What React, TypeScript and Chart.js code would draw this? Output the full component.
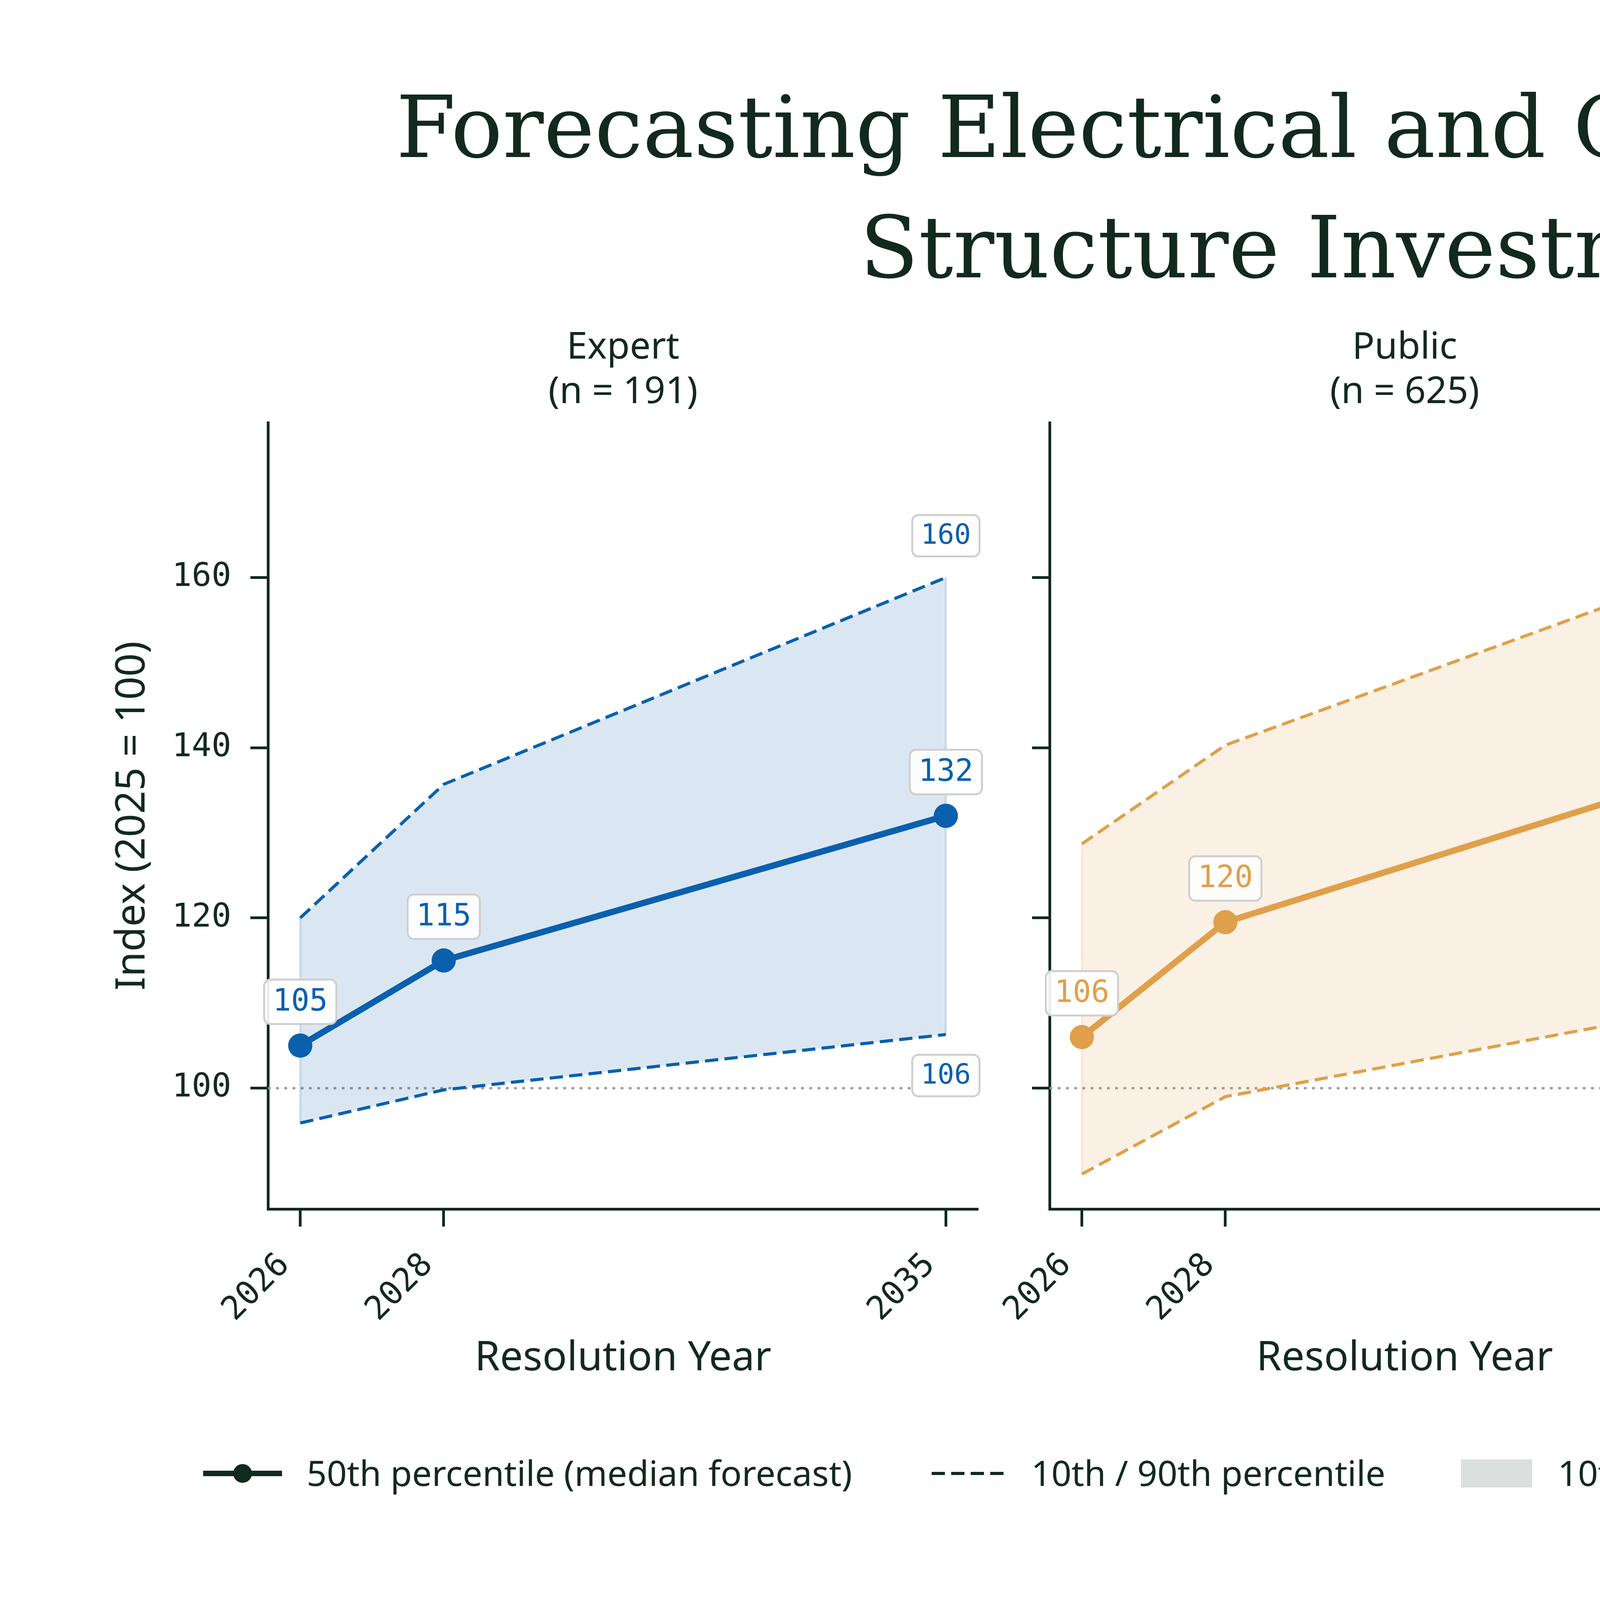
import { useEffect, useRef } from 'react'
import { Chart, registerables } from 'chart.js'
import type { Plugin } from 'chart.js'

Chart.register(...registerables)

// values
const YEARS = [2026, 2028, 2035]
const X_TICKS = [2026, 2028, 2035]
const Y_TICKS = [100, 120, 140, 160]
const BASELINE = 100

const GROUPS = ['Expert', 'Public', 'Superforecaster']
const GROUP_N = [191, 625, 52]

const EXPERT_P10 = [95.9, 99.8, 106.3]
const EXPERT_P50 = [105, 115, 132]
const EXPERT_P90 = [120, 135.7, 160]

const PUBLIC_P10 = [89.9, 99, 110]
const PUBLIC_P50 = [106, 119.5, 138]
const PUBLIC_P90 = [128.7, 140.3, 161.8]

const SUPER_P10 = [95.9, 97.9, 107.7]
const SUPER_P50 = [105, 112, 138]
const SUPER_P90 = [116.2, 133, 173.8]

const LEGEND_LABELS = [
  '50th percentile (median forecast)',
  '10th / 90th percentile',
  '10th\u201390th range',
  '100 = 2025 investment level',
]

// axis limits (matplotlib style 5% margins)
const X_MIN = 2025.55
const X_MAX = 2035.45
const Y_MIN = 85.8
const Y_MAX = 178.2

const DARK = '#12291f'
const SANS = '"Noto Sans", sans-serif'
const MONO = '"DejaVu Sans Mono", monospace'
const SERIF = '"DejaVu Serif", serif'

const AREA_LEFT = [686, 2687, 4689]
const AREA_WIDTH = 1818
const CANVAS_TOP = 800
const CANVAS_H = 2800

function valueLabels(color: string, edge: string): Plugin<'line'> {
  return {
    id: 'valueLabels',
    beforeDatasetsDraw(chart) {
      // faint vertical edges of the band, like fill_between
      const ctx = chart.ctx
      const hi = chart.getDatasetMeta(1).data
      const lo = chart.getDatasetMeta(2).data
      ctx.save()
      ctx.strokeStyle = edge
      ctx.lineWidth = 5
      for (const i of [0, hi.length - 1]) {
        ctx.beginPath()
        ctx.moveTo(hi[i].x, hi[i].y)
        ctx.lineTo(lo[i].x, lo[i].y)
        ctx.stroke()
      }
      ctx.restore()
    },
    afterDatasetsDraw(chart) {
      const ctx = chart.ctx
      const box = (x: number, y: number, text: string, size: number) => {
        ctx.save()
        ctx.font = `${size}px ${MONO}`
        const w = ctx.measureText(text).width + 44
        const h = size * 1.1 + 28
        ctx.beginPath()
        ctx.roundRect(x - w / 2, y - h / 2, w, h, 16)
        ctx.fillStyle = 'rgba(255,255,255,0.92)'
        ctx.fill()
        ctx.strokeStyle = '#cfcfcf'
        ctx.lineWidth = 5
        ctx.stroke()
        ctx.fillStyle = color
        ctx.textAlign = 'center'
        ctx.textBaseline = 'middle'
        ctx.fillText(text, x, y + 2)
        ctx.restore()
      }
      const val = (ds: number, i: number) =>
        String(Math.round((chart.data.datasets[ds].data[i] as { y: number }).y))

      const med = chart.getDatasetMeta(0).data
      med.forEach((pt, i) => box(pt.x, pt.y - 112, val(0, i), 78))
      const hi = chart.getDatasetMeta(1).data
      const lo = chart.getDatasetMeta(2).data
      const last = hi.length - 1
      box(hi[last].x, hi[last].y - 107, val(1, last), 71)
      box(lo[last].x, lo[last].y + 105, val(2, last), 71)
    },
  }
}

interface PanelProps {
  index: number
  p10: number[]
  p50: number[]
  p90: number[]
  color: string
  band: string
  edge: string
}

function Panel({ index, p10, p50, p90, color, band, edge }: PanelProps) {
  const ref = useRef<HTMLCanvasElement>(null)
  const first = index === 0
  const yw = first ? 686 : 320
  const left = AREA_LEFT[index] - yw
  const width = yw + AREA_WIDTH + 200

  useEffect(() => {
    if (!ref.current) return
    const toXY = (vals: number[]) => vals.map((y, i) => ({ x: YEARS[i], y }))
    const axisGrid = {
      drawOnChartArea: false,
      drawTicks: true,
      tickLength: 45,
      tickWidth: 7,
      tickColor: DARK,
    }
    const axisBorder = { display: true, color: DARK, width: 7 }

    const chart = new Chart(ref.current, {
      type: 'line',
      data: {
        datasets: [
          {
            label: '50th',
            data: toXY(p50),
            borderColor: color,
            backgroundColor: color,
            borderWidth: 16,
            pointRadius: 31,
            pointBackgroundColor: color,
            pointBorderWidth: 0,
            fill: false,
          },
          {
            label: '90th',
            data: toXY(p90),
            borderColor: color,
            backgroundColor: band,
            borderWidth: 8,
            borderDash: [34, 16],
            pointRadius: 0,
            fill: '+1',
          },
          {
            label: '10th',
            data: toXY(p10),
            borderColor: color,
            borderWidth: 8,
            borderDash: [34, 16],
            pointRadius: 0,
            fill: false,
          },
          {
            label: 'baseline',
            data: [
              { x: X_MIN, y: BASELINE },
              { x: X_MAX, y: BASELINE },
            ],
            borderColor: '#9b9b9b',
            borderWidth: 6,
            borderDash: [7, 14],
            pointRadius: 0,
            fill: false,
          },
        ],
      },
      options: {
        responsive: false,
        animation: false,
        devicePixelRatio: 1,
        layout: { padding: { left: 0, right: 200, top: 0, bottom: 0 } },
        scales: {
          x: {
            type: 'linear',
            min: X_MIN,
            max: X_MAX,
            afterBuildTicks: (s) => {
              s.ticks = X_TICKS.map((value) => ({ value }))
            },
            afterFit: (s) => {
              s.height = CANVAS_H - (3095 - CANVAS_TOP)
            },
            grid: axisGrid,
            border: axisBorder,
            ticks: {
              autoSkip: false,
              minRotation: 45,
              maxRotation: 45,
              padding: 50,
              labelOffset: -40,
              color: DARK,
              font: { family: MONO, size: 84 },
              callback: (v) => String(v),
            },
            title: {
              display: true,
              text: 'Resolution Year',
              color: DARK,
              font: { family: SANS, size: 104 },
              padding: { top: 0, bottom: 59 },
            },
          },
          y: {
            type: 'linear',
            min: Y_MIN,
            max: Y_MAX,
            afterBuildTicks: (s) => {
              s.ticks = Y_TICKS.map((value) => ({ value }))
            },
            afterFit: (s) => {
              s.width = yw
            },
            grid: axisGrid,
            border: axisBorder,
            ticks: {
              padding: 49,
              color: DARK,
              font: { family: MONO, size: 84 },
              callback: (v) => (first ? String(v) : ''),
            },
            title: {
              display: first,
              text: 'Index (2025 = 100)',
              color: DARK,
              font: { family: SANS, size: 104 },
              padding: { top: 278, bottom: 0 },
            },
          },
        },
        plugins: {
          legend: { display: false },
          tooltip: { enabled: false },
          title: {
            display: true,
            text: [GROUPS[index], `(n = ${GROUP_N[index]})`],
            fullSize: false,
            color: DARK,
            font: { family: SANS, size: 95, weight: 'normal' },
            padding: { top: 34, bottom: 20 },
          },
        },
      },
      plugins: [valueLabels(color, edge)],
    })

    return () => chart.destroy()
  }, [])

  return (
    <canvas
      ref={ref}
      width={width}
      height={CANVAS_H}
      style={{ position: 'absolute', left, top: CANVAS_TOP, width, height: CANVAS_H }}
    />
  )
}

function Legend() {
  const cy = 3772
  const textX = [785, 2640, 3988, 5122]
  return (
    <>
      <svg
        width={6800}
        height={200}
        style={{ position: 'absolute', left: 0, top: cy - 100 }}
      >
        <line x1={520} y1={100} x2={722} y2={100} stroke={DARK} strokeWidth={14} />
        <circle cx={621} cy={100} r={24} fill={DARK} />
        <line x1={2385} y1={100} x2={2580} y2={100} stroke={DARK} strokeWidth={8} strokeDasharray="34 16" />
        <rect x={3740} y={64} width={182} height={72} fill="#dbdfdd" />
        <line x1={4870} y1={100} x2={5066} y2={100} stroke="#9b9b9b" strokeWidth={6} strokeDasharray="7 14" />
      </svg>
      {LEGEND_LABELS.map((t, i) => (
        <div
          key={t}
          style={{
            position: 'absolute',
            left: textX[i],
            top: cy - 53,
            height: 100,
            lineHeight: '100px',
            fontFamily: SANS,
            fontSize: 90,
            color: DARK,
            whiteSpace: 'nowrap',
          }}
        >
          {t}
        </div>
      ))}
    </>
  )
}

export default function App() {
  return (
    <div
      style={{
        position: 'absolute',
        left: 0,
        top: 0,
        width: 6800,
        height: 4106,
        background: '#ffffff',
        overflow: 'hidden',
      }}
    >
      <div
        style={{
          position: 'absolute',
          left: 0,
          top: 172,
          width: 6800,
          textAlign: 'center',
          fontFamily: SERIF,
          fontSize: 220,
          lineHeight: '308px',
          color: DARK,
        }}
      >
        Forecasting Electrical and Communication
        <br />
        Structure Investment
      </div>
      <Panel index={0} p10={EXPERT_P10} p50={EXPERT_P50} p90={EXPERT_P90}
        color="#0a60ad" band="rgba(10,96,173,0.15)" edge="rgba(10,96,173,0.18)" />
      <Panel index={1} p10={PUBLIC_P10} p50={PUBLIC_P50} p90={PUBLIC_P90}
        color="#e0a04b" band="rgba(224,160,75,0.15)" edge="rgba(224,160,75,0.2)" />
      <Panel index={2} p10={SUPER_P10} p50={SUPER_P50} p90={SUPER_P90}
        color="#e05c5c" band="rgba(224,92,92,0.15)" edge="rgba(224,92,92,0.2)" />
      <Legend />
    </div>
  )
}
